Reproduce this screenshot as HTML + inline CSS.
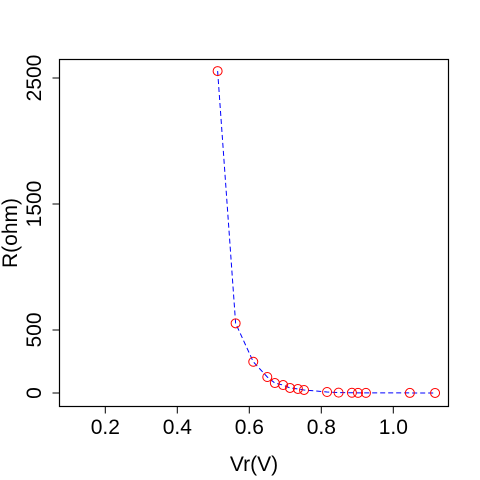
<!DOCTYPE html>
<html><head><meta charset="utf-8"><style>body{margin:0;background:#fff}svg{display:block}text{font-family:"Liberation Sans",sans-serif;font-size:21px;fill:#000}</style></head>
<body>
<svg width="480" height="480" id="c">
<rect x="59.5" y="59.5" width="389" height="347" fill="none" stroke="#000" stroke-width="1.2"/>
<text x="254" y="471" text-anchor="middle">Vr(V)</text>
<text transform="translate(17,233) rotate(-90)" text-anchor="middle">R(ohm)</text>
</svg>
<script>
const vr=[0.512,0.562,0.611,0.650,0.671,0.694,0.713,0.735,0.752,0.816,0.848,0.885,0.902,0.924,1.046,1.116];
const rohm=[2555,553,248,127,79,63,40,32,24,8,3,2,1,1,0.5,0.3];
const xTicks=[0.2,0.4,0.6,0.8,1.0];
const xTickLabels=["0.2","0.4","0.6","0.8","1.0"];
const yTicks=[0,500,1500,2500];
const yTickLabels=["0","500","1500","2500"];
const svg=document.getElementById('c');const NS='http://www.w3.org/2000/svg';
const X=v=>249.3+(v-0.6)*360;const Y=r=>393-r*0.126;
function mk(t,a){const e=document.createElementNS(NS,t);for(const k in a)e.setAttribute(k,a[k]);svg.appendChild(e);return e;}
xTicks.forEach((v,i)=>{const l=mk('line',{x1:X(v),x2:X(v),y1:406.5,y2:413.5,stroke:'#000'});


const t=mk('text',{x:X(v),y:434,'text-anchor':'middle'});t.textContent=xTickLabels[i];

});
yTicks.forEach((r,i)=>{const l=mk('line',{x1:52.5,x2:59.5,y1:Y(r),y2:Y(r),stroke:'#000'});


const t=mk('text',{transform:`translate(41,${Y(r)}) rotate(-90)`,'text-anchor':'middle'});t.textContent=yTickLabels[i];

});
const p=mk('polyline',{points:vr.map((v,i)=>X(v)+','+Y(rohm[i])).join(' '),fill:'none',stroke:'#00f','stroke-dasharray':'5,3'});


vr.forEach((v,i)=>{const c=mk('circle',{cx:X(v),cy:Y(rohm[i]),r:4.5,fill:'none',stroke:'#f00'});

});
</script>
</body></html>
